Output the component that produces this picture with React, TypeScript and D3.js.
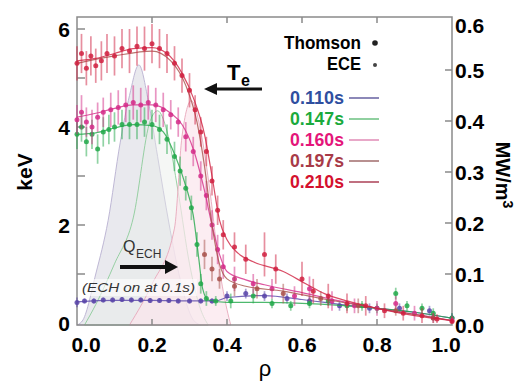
import React from "react";
import * as d3 from "d3";

// ECH deposition profiles, [rho, MW/m^3]
const echA = [[0.0, 0.0], [0.016, 0.01], [0.05, 0.1], [0.083, 0.205], [0.115, 0.357], [0.14, 0.45], [0.165, 0.51], [0.19, 0.44], [0.215, 0.33], [0.245, 0.2], [0.275, 0.09], [0.31, 0.01], [0.33, 0.0]];
const echB = [[0.02, 0.0], [0.05, 0.04], [0.1, 0.12], [0.15, 0.21], [0.195, 0.4], [0.215, 0.42], [0.24, 0.38], [0.27, 0.26], [0.3, 0.12], [0.33, 0.03], [0.35, 0.0]];
const echC = [[0.14, 0.0], [0.2, 0.08], [0.26, 0.19], [0.28, 0.37], [0.305, 0.44], [0.33, 0.38], [0.355, 0.26], [0.38, 0.11], [0.4, 0.03], [0.41, 0.0]];

// Te fits, [rho, keV]
const fit110 = [[0, 0.43], [0.1, 0.46], [0.2, 0.46], [0.3, 0.45], [0.37, 0.45], [0.4, 0.52], [0.5, 0.56], [0.6, 0.48], [0.7, 0.38], [0.8, 0.3], [0.9, 0.22], [1.0, 0.1]];
const fit147 = [[0, 3.85], [0.05, 3.88], [0.1, 3.98], [0.15, 4.05], [0.2, 4.03], [0.23, 3.9], [0.26, 3.45], [0.29, 2.8], [0.31, 2.2], [0.325, 1.3], [0.335, 0.7], [0.35, 0.47], [0.4, 0.42], [0.5, 0.42], [0.6, 0.4], [0.7, 0.36], [0.8, 0.3], [0.9, 0.22], [1.0, 0.1]];
const fit160 = [[0, 4.2], [0.05, 4.28], [0.1, 4.38], [0.15, 4.45], [0.2, 4.45], [0.25, 4.28], [0.28, 4.05], [0.31, 3.55], [0.34, 2.7], [0.36, 2.0], [0.38, 1.4], [0.4, 1.05], [0.45, 0.88], [0.5, 0.78], [0.6, 0.62], [0.7, 0.45], [0.8, 0.3], [0.9, 0.18], [1.0, 0.05]];
const fit197 = [[0, 5.3], [0.1, 5.45], [0.2, 5.55], [0.25, 5.35], [0.29, 4.85], [0.32, 4.1], [0.34, 3.2], [0.36, 2.0], [0.38, 1.2], [0.4, 0.9], [0.45, 0.75], [0.55, 0.65], [0.65, 0.5], [0.8, 0.3], [1.0, 0.05]];
const fit210 = [[0, 5.35], [0.05, 5.4], [0.1, 5.5], [0.15, 5.6], [0.2, 5.62], [0.24, 5.5], [0.28, 5.1], [0.31, 4.6], [0.34, 3.85], [0.36, 3.0], [0.38, 2.1], [0.4, 1.7], [0.43, 1.42], [0.47, 1.25], [0.55, 1.05], [0.61, 0.8], [0.66, 0.6], [0.72, 0.45], [0.8, 0.3], [0.9, 0.15], [1.0, 0.05]];

// measured points, [rho, keV, error]
const pts110 = [[0.0, 0.42, 0.1], [0.02, 0.45, 0.05], [0.045, 0.45, 0.05], [0.07, 0.47, 0.05], [0.095, 0.47, 0.05], [0.12, 0.48, 0.05], [0.145, 0.47, 0.05], [0.17, 0.47, 0.05], [0.195, 0.46, 0.05], [0.22, 0.46, 0.05], [0.245, 0.46, 0.05], [0.27, 0.45, 0.05], [0.3, 0.45, 0.05], [0.33, 0.45, 0.05], [0.36, 0.45, 0.05], [0.4, 0.55, 0.1], [0.45, 0.6, 0.1], [0.5, 0.55, 0.1], [0.56, 0.5, 0.1], [0.62, 0.45, 0.1], [0.7, 0.35, 0.1], [0.78, 0.3, 0.1], [0.86, 0.3, 0.1], [0.94, 0.25, 0.1], [1.0, 0.1, 0.1]];
const pts147 = [[0.0, 3.85, 0.3], [0.012, 4.0, 0.3], [0.025, 3.7, 0.3], [0.04, 3.85, 0.3], [0.055, 3.55, 0.3], [0.07, 3.9, 0.3], [0.085, 3.95, 0.3], [0.1, 4.0, 0.3], [0.12, 4.05, 0.3], [0.14, 4.05, 0.3], [0.16, 4.05, 0.3], [0.18, 4.1, 0.3], [0.2, 4.05, 0.3], [0.22, 3.95, 0.3], [0.24, 3.75, 0.3], [0.26, 3.4, 0.3], [0.275, 3.1, 0.3], [0.29, 2.75, 0.25], [0.305, 2.35, 0.25], [0.32, 1.6, 0.25], [0.33, 0.8, 0.2], [0.345, 0.5, 0.15], [0.37, 0.45, 0.1], [0.41, 0.45, 0.15], [0.47, 0.55, 0.15], [0.52, 0.4, 0.1], [0.57, 0.35, 0.1], [0.62, 0.4, 0.1], [0.67, 0.45, 0.1], [0.72, 0.35, 0.1], [0.76, 0.35, 0.1], [0.8, 0.3, 0.1], [0.85, 0.6, 0.12], [0.88, 0.35, 0.1], [0.92, 0.3, 0.1], [0.95, 0.2, 0.1], [1.0, 0.1, 0.1]];
const pts160 = [[0.0, 4.15, 0.3], [0.012, 4.3, 0.35], [0.025, 4.1, 0.3], [0.04, 4.0, 0.35], [0.055, 4.2, 0.3], [0.07, 4.3, 0.3], [0.09, 4.35, 0.35], [0.11, 4.4, 0.35], [0.13, 4.45, 0.35], [0.15, 4.5, 0.35], [0.17, 4.45, 0.35], [0.19, 4.5, 0.35], [0.21, 4.45, 0.35], [0.23, 4.35, 0.35], [0.25, 4.25, 0.3], [0.27, 4.1, 0.3], [0.29, 3.8, 0.3], [0.31, 3.5, 0.3], [0.33, 3.0, 0.3], [0.345, 2.6, 0.3], [0.36, 2.0, 0.3], [0.375, 1.5, 0.3], [0.39, 1.15, 0.25], [0.42, 0.9, 0.25], [0.47, 0.8, 0.2], [0.52, 0.7, 0.2], [0.58, 0.55, 0.2], [0.62, 0.7, 0.25], [0.68, 0.45, 0.2], [0.74, 0.35, 0.15], [0.8, 0.3, 0.15], [0.85, 0.4, 0.15], [0.9, 0.2, 0.15], [0.95, 0.1, 0.1], [1.0, 0.05, 0.1]];
const pts197 = [[0.34, 1.4, 0.3], [0.36, 1.1, 0.25], [0.38, 0.9, 0.2], [0.42, 0.75, 0.2], [0.48, 0.7, 0.2], [0.55, 0.6, 0.2], [0.65, 0.5, 0.15], [0.75, 0.35, 0.15], [0.85, 0.25, 0.1], [0.95, 0.1, 0.1]];
const pts210 = [[0.0, 5.3, 0.35], [0.012, 5.5, 0.4], [0.025, 5.2, 0.35], [0.037, 5.45, 0.4], [0.05, 5.25, 0.35], [0.065, 5.35, 0.4], [0.08, 5.5, 0.4], [0.1, 5.45, 0.4], [0.12, 5.6, 0.4], [0.14, 5.55, 0.45], [0.16, 5.65, 0.4], [0.18, 5.6, 0.45], [0.2, 5.7, 0.4], [0.22, 5.6, 0.4], [0.24, 5.5, 0.4], [0.26, 5.3, 0.35], [0.28, 5.05, 0.35], [0.3, 4.75, 0.35], [0.315, 4.35, 0.3], [0.33, 3.9, 0.3], [0.345, 3.5, 0.3], [0.36, 2.9, 0.3], [0.375, 2.3, 0.3], [0.39, 1.8, 0.3], [0.42, 1.55, 0.3], [0.45, 1.3, 0.3], [0.5, 1.4, 0.45], [0.53, 1.1, 0.3], [0.6, 0.9, 0.35], [0.63, 0.65, 0.25], [0.67, 0.55, 0.25], [0.72, 0.4, 0.2], [0.77, 0.35, 0.2], [0.82, 0.25, 0.15], [0.87, 0.2, 0.15], [0.92, 0.15, 0.15], [0.96, 0.08, 0.1], [1.0, 0.03, 0.1]];

const timeLabels = ["0.110s", "0.147s", "0.160s", "0.197s", "0.210s"];
const xTicks = [0, 0.2, 0.4, 0.6, 0.8, 1.0];
const yTicks = [0, 2, 4, 6];
const yMinor = [1, 2, 3, 4, 5, 6];
const yRTicks = [0, 0.1, 0.2, 0.3, 0.4, 0.5, 0.6];

const series = [
  { t: "0.110s", fit: fit110, pts: pts110, text: "#2f4f9f", dot: "#5844a8", line: "#8c88b8" },
  { t: "0.147s", fit: fit147, pts: pts147, text: "#1aaa3c", dot: "#22a84a", line: "#90d0a0" },
  { t: "0.160s", fit: fit160, pts: pts160, text: "#e4157a", dot: "#d42c88", line: "#e8a8c8" },
  { t: "0.197s", fit: fit197, pts: pts197, text: "#a83a48", dot: "#a8504a", line: "#b89090" },
  { t: "0.210s", fit: fit210, pts: pts210, text: "#d4102e", dot: "#d02040", line: "#c07080" },
];

const FONT = "'Liberation Sans', Arial, Helvetica, sans-serif";

export default function App() {
  const x = d3.scaleLinear().domain([0, 1]).range([77, 452]);
  const y = d3.scaleLinear().domain([0, 6]).range([323, 29]);
  const yR = d3.scaleLinear().domain([0, 0.6]).range([325, 19]);
  const top = 17, bottom = 325;

  const area = d3.area<number[]>().x(d => x(d[0])).y0(yR(0)).y1(d => yR(d[1])).curve(d3.curveMonotoneX);
  const fitLine = d3.line<number[]>().x(d => x(d[0])).y(d => y(d[1])).curve(d3.curveMonotoneX);

  return (
    <svg width={524} height={381} style={{ position: "absolute", left: 0, top: 0, background: "#fff" }} fontFamily={FONT}>
      {/* ECH deposition */}
      <path d={area(echA) || ""} fill="#e4e4ea" fillOpacity={0.8} stroke="#b8b0d0" strokeWidth={0.9} />
      <path d={area(echB) || ""} fill="#e8eee8" fillOpacity={0.45} stroke="#8ccc9a" strokeWidth={0.9} />
      <path d={area(echC) || ""} fill="#fbe6ec" fillOpacity={0.7} stroke="#e8a8bb" strokeWidth={0.9} />

      {/* frame */}
      <rect x={x(0)} y={top} width={x(1) - x(0)} height={bottom - top} fill="none" stroke="#8a8a8a" strokeWidth={1.5} />
      {yMinor.map(v => <line key={"yl" + v} x1={x(0)} x2={x(0) + 8} y1={y(v)} y2={y(v)} stroke="#8a8a8a" strokeWidth={1.5} />)}
      {xTicks.slice(1, 5).map(v => (
        <g key={"xt" + v}>
          <line x1={x(v)} x2={x(v)} y1={top} y2={top + 6} stroke="#8a8a8a" strokeWidth={1.5} />
          <line x1={x(v)} x2={x(v)} y1={bottom} y2={bottom - 6} stroke="#8a8a8a" strokeWidth={1.5} />
        </g>
      ))}
      {yRTicks.slice(1, 6).map(v => <line key={"yr" + v} x1={x(1)} x2={x(1) - 7} y1={yR(v)} y2={yR(v)} stroke="#8a8a8a" strokeWidth={1.5} />)}

      {/* data */}
      {series.map(s => (
        <g key={s.t}>
          {s.pts.map((p, i) => (
            <line key={"e" + i} x1={x(p[0])} x2={x(p[0])} y1={y(Math.max(0, p[1] - p[2]))} y2={y(p[1] + p[2])}
              stroke={s.dot} strokeOpacity={0.5} strokeWidth={1.7} />
          ))}
          <path d={fitLine(s.fit) || ""} fill="none" stroke={s.dot} strokeOpacity={0.8} strokeWidth={1.2} />
          {s.pts.map((p, i) => (
            <circle key={"c" + i} cx={x(p[0])} cy={y(p[1])} r={2.5} fill={s.dot} fillOpacity={0.85} />
          ))}
        </g>
      ))}

      {/* tick labels */}
      {yTicks.map(v => (
        <text key={"yl" + v} x={70} y={y(v) + 7.5} textAnchor="end" fontSize={21} fontWeight="bold">{v}</text>
      ))}
      {yRTicks.map(v => (
        <text key={"yrl" + v} x={455} y={Math.max(yR(v), 25) + 7.5} fontSize={21} fontWeight="bold">{v.toFixed(1)}</text>
      ))}
      {xTicks.map((v, i) => (
        <text key={"xl" + v} x={x(v) + (i === 0 ? 9 : i === 5 ? -6 : 0)} y={352} textAnchor="middle" fontSize={21} fontWeight="bold">{v.toFixed(1)}</text>
      ))}

      {/* axis titles */}
      <text transform="translate(32,172) rotate(-90)" textAnchor="middle" fontSize={21} fontWeight="bold">keV</text>
      <text transform="translate(496,175) rotate(90)" textAnchor="middle" fontSize={20} fontWeight="bold">
        MW/m<tspan dy={-7} fontSize={14}>3</tspan>
      </text>
      <text x={265} y={376} textAnchor="middle" fontSize={22}>ρ</text>

      {/* legend */}
      <text x={361} y={49} textAnchor="end" fontSize={18} fontWeight="bold" textLength={77} lengthAdjust="spacingAndGlyphs">Thomson</text>
      <circle cx={375} cy={43} r={2.8} fill="#222" />
      <text x={361} y={70} textAnchor="end" fontSize={18} fontWeight="bold" textLength={34} lengthAdjust="spacingAndGlyphs">ECE</text>
      <circle cx={375} cy={65} r={2} fill="#444" />
      {series.map((s, i) => (
        <g key={"lg" + s.t}>
          <text x={344} y={104 + i * 21} textAnchor="end" fontSize={18} fontWeight="bold" fill={s.text}
            textLength={54} lengthAdjust="spacingAndGlyphs">{timeLabels[i]}</text>
          <line x1={349} x2={379} y1={98 + i * 21} y2={98 + i * 21} stroke={s.line} strokeWidth={2} />
        </g>
      ))}

      {/* Te annotation */}
      <text x={227} y={80} fontSize={22} fontWeight="bold">T</text>
      <text x={241} y={86} fontSize={16} fontWeight="bold">e</text>
      <line x1={262} x2={214} y1={89} y2={89} stroke="#111" strokeWidth={3} />
      <path d="M204,89 L217,83 L217,95 Z" fill="#111" />

      {/* ECH annotation */}
      <text x={123} y={252} fontSize={16} fill="#333">Q</text>
      <text x={136} y={258} fontSize={12} fill="#333">ECH</text>
      <line x1={120} x2={168} y1={267} y2={267} stroke="#111" strokeWidth={4} />
      <path d="M178,267 L165,260 L165,274 Z" fill="#111" />
      <rect x={80} y={279} width={117} height={17} fill="#fff" fillOpacity={0.6} />
      <text x={82} y={292} fontSize={12.5} fontStyle="italic" fill="#333" textLength={113} lengthAdjust="spacingAndGlyphs">(ECH on at 0.1s)</text>
    </svg>
  );
}
